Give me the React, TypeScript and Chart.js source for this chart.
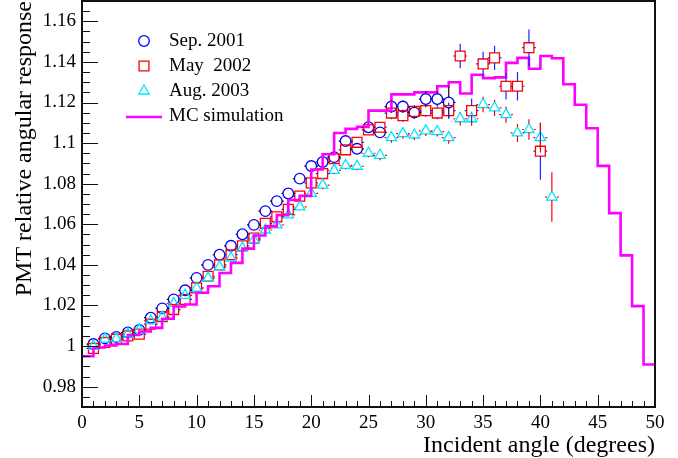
import React, { useEffect, useRef } from 'react';
import { Chart, registerables } from 'chart.js';

Chart.register(...registerables);

const FONT = "'Liberation Serif', 'Times New Roman', Times, serif";

// ---------- data ----------
const sepAngles = [1, 2, 3, 4, 5, 6, 7, 8, 9, 10, 11, 12, 13, 14, 15, 16, 17, 18, 19, 20, 21, 22, 23, 24, 25, 26, 27, 28, 29, 30, 31, 32];
const sepValues = [1.001, 1.0038, 1.0045, 1.0067, 1.008, 1.014, 1.0186, 1.023, 1.0275, 1.0336, 1.04, 1.045, 1.0494, 1.0551, 1.0597, 1.0665, 1.0714, 1.0752, 1.0825, 1.0887, 1.0907, 1.0931, 1.101, 1.0972, 1.1078, 1.1053, 1.118, 1.118, 1.115, 1.1217, 1.1217, 1.12];
const sepErrors = [0.0015, 0.0015, 0.0015, 0.0015, 0.0015, 0.0015, 0.0015, 0.0015, 0.0015, 0.0015, 0.0015, 0.0015, 0.0015, 0.0015, 0.0015, 0.0015, 0.0015, 0.0015, 0.0015, 0.0018, 0.002, 0.002, 0.002, 0.002, 0.002, 0.002, 0.003, 0.003, 0.003, 0.004, 0.0037, 0.0078];

const mayAngles = [1, 2, 3, 4, 5, 6, 7, 8, 9, 10, 11, 12, 13, 14, 15, 16, 17, 18, 19, 20, 21, 22, 23, 24, 25, 26, 27, 28, 29, 30, 31, 32, 33, 34, 35, 36, 37, 38, 39, 40];
const mayValues = [0.9989, 1.0018, 1.0034, 1.005, 1.0059, 1.0108, 1.0145, 1.018, 1.023, 1.0287, 1.0344, 1.04, 1.045, 1.0494, 1.0532, 1.0605, 1.0637, 1.0674, 1.0739, 1.0804, 1.085, 1.0923, 1.0967, 1.1004, 1.1065, 1.1078, 1.1148, 1.1135, 1.1156, 1.116, 1.1148, 1.116, 1.1429, 1.116, 1.139, 1.142, 1.128, 1.128, 1.147, 1.096];
const mayErrors = [0.0015, 0.0015, 0.0015, 0.0015, 0.0015, 0.0015, 0.0015, 0.0015, 0.0015, 0.0015, 0.0015, 0.0015, 0.0015, 0.0015, 0.0015, 0.0015, 0.0015, 0.0015, 0.0015, 0.0018, 0.002, 0.002, 0.002, 0.002, 0.002, 0.002, 0.003, 0.003, 0.003, 0.003, 0.003, 0.004, 0.006, 0.006, 0.006, 0.006, 0.0065, 0.007, 0.009, 0.014];

const augAngles = [1, 2, 3, 4, 5, 6, 7, 8, 9, 10, 11, 12, 13, 14, 15, 16, 17, 18, 19, 20, 21, 22, 23, 24, 25, 26, 27, 28, 29, 30, 31, 32, 33, 34, 35, 36, 37, 38, 39, 40, 41];
const augValues = [1.0, 1.0034, 1.0037, 1.0059, 1.008, 1.0124, 1.0143, 1.021, 1.025, 1.0285, 1.0335, 1.039, 1.0434, 1.0483, 1.0523, 1.0572, 1.0597, 1.0646, 1.0686, 1.0752, 1.0793, 1.0866, 1.089, 1.0886, 1.095, 1.094, 1.1027, 1.1047, 1.104, 1.106, 1.1057, 1.1027, 1.112, 1.112, 1.119, 1.1174, 1.114, 1.105, 1.1067, 1.1027, 1.0734];
const augErrors = [0.0015, 0.0015, 0.0015, 0.0015, 0.0015, 0.0015, 0.0015, 0.0015, 0.0015, 0.0015, 0.0015, 0.0015, 0.0015, 0.0015, 0.0015, 0.0015, 0.0015, 0.0015, 0.0015, 0.0018, 0.002, 0.002, 0.002, 0.002, 0.002, 0.0025, 0.0025, 0.0025, 0.0025, 0.0025, 0.0025, 0.003, 0.0033, 0.0035, 0.0038, 0.004, 0.004, 0.0044, 0.005, 0.0073, 0.0122];

// MC simulation histogram: bin edges and bin contents
const mcEdges = [0, 1, 2, 3, 4, 5, 6, 7, 8, 9, 10, 11, 12, 13, 14, 15, 16, 17, 18, 19, 20, 21, 22, 23, 24, 25, 26, 27, 28, 29, 30, 31, 32, 33, 34, 35, 36, 37, 38, 39, 40, 41, 42, 43, 44, 45, 46, 47, 48, 49, 50];
const mcValues = [0.995, 0.9993, 1.0003, 1.001, 1.0055, 1.0072, 1.009, 1.0135, 1.0195, 1.0205, 1.0263, 1.0295, 1.036, 1.041, 1.048, 1.0545, 1.059, 1.0645, 1.072, 1.074, 1.087, 1.0945, 1.105, 1.107, 1.108, 1.116, 1.116, 1.124, 1.124, 1.125, 1.125, 1.128, 1.13, 1.1244, 1.1337, 1.132, 1.1324, 1.1395, 1.142, 1.1366, 1.1429, 1.1418, 1.129, 1.1189, 1.1073, 1.0888, 1.0655, 1.0447, 1.0197, 0.9909];

const xTicks = [0, 5, 10, 15, 20, 25, 30, 35, 40, 45, 50];
const yTicks = [0.98, 1.0, 1.02, 1.04, 1.06, 1.08, 1.1, 1.12, 1.14, 1.16];
const xRange = [0, 50];
const yRange = [0.97, 1.17];
const xMinorStep = 1;
const yMinorStep = 0.005;
const xHalfWidth = 0.6; // horizontal error bar half width (degrees)

const seriesLabels = ['Sep. 2001', 'May  2002', 'Aug. 2003', 'MC simulation'];

// ---------- plugins ----------
const errorBarPlugin = {
  id: 'errorBars',
  afterDatasetsDraw(chart: any) {
    const { ctx, chartArea: a, scales } = chart;
    const xs = scales.x;
    const ys = scales.y;
    ctx.save();
    ctx.beginPath();
    ctx.rect(a.left, a.top, a.width, a.height);
    ctx.clip();
    chart.data.datasets.forEach((ds: any) => {
      if (!ds.errors) return;
      ctx.strokeStyle = ds.barColor;
      ctx.lineWidth = 1.2;
      ctx.beginPath();
      ds.data.forEach((p: any, j: number) => {
        const e = ds.errors[j];
        const cx = xs.getPixelForValue(p.x);
        const cy = ys.getPixelForValue(p.y);
        const top = ys.getPixelForValue(p.y + e);
        const bot = ys.getPixelForValue(p.y - e);
        if (cy - top > ds.gapUp) {
          ctx.moveTo(cx, cy - ds.gapUp);
          ctx.lineTo(cx, top);
        }
        if (bot - cy > ds.gapDown) {
          ctx.moveTo(cx, cy + ds.gapDown);
          ctx.lineTo(cx, bot);
        }
        const xl = xs.getPixelForValue(p.x - xHalfWidth);
        const xr = xs.getPixelForValue(p.x + xHalfWidth);
        if (cx - xl > ds.gapX) {
          ctx.moveTo(cx - ds.gapX, cy);
          ctx.lineTo(xl, cy);
          ctx.moveTo(cx + ds.gapX, cy);
          ctx.lineTo(xr, cy);
        }
      });
      ctx.stroke();
    });
    ctx.restore();
  },
};

const framePlugin = {
  id: 'rootFrame',
  afterDraw(chart: any) {
    const { ctx, chartArea: a, scales } = chart;
    const xs = scales.x;
    const ys = scales.y;
    ctx.save();
    ctx.strokeStyle = '#111';
    ctx.lineWidth = 1;
    ctx.beginPath();
    const nx = Math.round((xs.max - xs.min) / xMinorStep);
    for (let i = 0; i <= nx; i++) {
      const v = xs.min + i * xMinorStep;
      const major = xTicks.some((t) => Math.abs(t - v) < 1e-6);
      const px = Math.round(xs.getPixelForValue(v)) + 0.5;
      ctx.moveTo(px, a.bottom);
      ctx.lineTo(px, a.bottom - (major ? 12 : 6));
    }
    const ny = Math.round((ys.max - ys.min) / yMinorStep);
    for (let i = 0; i <= ny; i++) {
      const v = ys.min + i * yMinorStep;
      const major = yTicks.some((t) => Math.abs(t - v) < 1e-6);
      const py = Math.round(ys.getPixelForValue(v)) + 0.5;
      ctx.moveTo(a.left, py);
      ctx.lineTo(a.left + (major ? 16 : 8), py);
    }
    ctx.stroke();
    ctx.lineWidth = 2;
    ctx.strokeRect(a.left, a.top, a.width, a.height);
    ctx.restore();
  },
};

const legendPlugin = {
  id: 'rootLegend',
  afterDraw(chart: any) {
    const { ctx, chartArea: a } = chart;
    const x0 = a.left + 62;
    const y0 = a.top + 40;
    const dy = 25;
    ctx.save();
    chart.data.datasets.forEach((ds: any, i: number) => {
      const y = y0 + i * dy;
      ctx.strokeStyle = ds.borderColor;
      if (ds.showLine) {
        ctx.lineWidth = ds.borderWidth;
        ctx.beginPath();
        ctx.moveTo(x0 - 18, y + 1);
        ctx.lineTo(x0 + 18, y + 1);
        ctx.stroke();
      } else {
        ctx.lineWidth = ds.pointBorderWidth;
        ctx.beginPath();
        if (ds.pointStyle === 'circle') {
          ctx.arc(x0, y, ds.pointRadius, 0, Math.PI * 2);
        } else if (ds.pointStyle === 'rect') {
          const s = ds.pointRadius * Math.SQRT1_2;
          ctx.rect(x0 - s, y - s, 2 * s, 2 * s);
        } else {
          const r = ds.pointRadius;
          ctx.moveTo(x0, y - r);
          ctx.lineTo(x0 + r * Math.sin(Math.PI / 3), y + r / 2);
          ctx.lineTo(x0 - r * Math.sin(Math.PI / 3), y + r / 2);
          ctx.closePath();
        }
        ctx.stroke();
      }
      ctx.fillStyle = '#000';
      ctx.font = `19px ${FONT}`;
      ctx.textBaseline = 'middle';
      ctx.textAlign = 'left';
      ctx.fillText(ds.label, x0 + 25, y);
    });
    ctx.restore();
  },
};

const toPoints = (xs: number[], ys: number[]) => xs.map((x, i) => ({ x, y: ys[i] }));
const noPadding = () => ({ left: 0, top: 0, right: 0, bottom: 0 });

export default function App() {
  const ref = useRef<HTMLCanvasElement | null>(null);

  useEffect(() => {
    if (!ref.current) return;
    const mcPoints = mcValues.flatMap((v, i) => [
      { x: mcEdges[i], y: v },
      { x: mcEdges[i + 1], y: v },
    ]);
    const chart = new Chart(ref.current, {
      type: 'scatter',
      data: {
        datasets: [
          {
            label: seriesLabels[0],
            data: toPoints(sepAngles, sepValues),
            pointStyle: 'circle',
            pointRadius: 5.3,
            pointBorderWidth: 1.3,
            borderColor: '#0000ff',
            backgroundColor: 'rgba(0,0,0,0)',
            order: 3,
            errors: sepErrors,
            barColor: '#111',
            gapUp: 5,
            gapDown: 5,
            gapX: 5,
          } as any,
          {
            label: seriesLabels[1],
            data: toPoints(mayAngles, mayValues),
            pointStyle: 'rect',
            pointRadius: 7,
            pointBorderWidth: 1.3,
            borderColor: '#ff0000',
            backgroundColor: 'rgba(0,0,0,0)',
            order: 2,
            errors: mayErrors,
            barColor: '#2222ff',
            gapUp: 5,
            gapDown: 5,
            gapX: 5,
          } as any,
          {
            label: seriesLabels[2],
            data: toPoints(augAngles, augValues),
            pointStyle: 'triangle',
            pointRadius: 6,
            pointBorderWidth: 1.3,
            borderColor: '#00e5ff',
            backgroundColor: 'rgba(0,0,0,0)',
            order: 1,
            errors: augErrors,
            barColor: '#ff0000',
            gapUp: 6,
            gapDown: 3,
            gapX: 5,
          } as any,
          {
            label: seriesLabels[3],
            data: mcPoints,
            showLine: true,
            borderColor: '#ff00ff',
            borderWidth: 2.6,
            pointRadius: 0,
            tension: 0,
            fill: false,
            order: 0,
          } as any,
        ],
      },
      options: {
        animation: false,
        responsive: false,
        events: [],
        layout: { autoPadding: false, padding: { left: 0, right: 23, top: 1, bottom: 0 } },
        plugins: {
          legend: { display: false },
          tooltip: { enabled: false },
        },
        scales: {
          x: {
            type: 'linear',
            min: xRange[0],
            max: xRange[1],
            grid: { display: false, drawTicks: false },
            border: { display: false },
            afterBuildTicks: (s: any) => {
              s.ticks = xTicks.map((v) => ({ value: v }));
            },
            afterFit: (s: any) => {
              s.height = 51;
              s.paddingLeft = 0;
              s.paddingRight = 0;
              s.paddingTop = 0;
              s.paddingBottom = 0;
              s.getPadding = noPadding;
            },
            ticks: {
              color: '#000',
              padding: 5,
              font: { family: FONT, size: 19 },
              maxRotation: 0,
              autoSkip: false,
              callback: (v: any) => String(v),
            },
            title: {
              display: true,
              text: 'Incident angle (degrees)',
              align: 'end',
              color: '#000',
              font: { family: FONT, size: 24, lineHeight: 1 },
              padding: { top: 0, bottom: 0 },
            },
          },
          y: {
            type: 'linear',
            min: yRange[0],
            max: yRange[1],
            grid: { display: false, drawTicks: false },
            border: { display: false },
            afterBuildTicks: (s: any) => {
              s.ticks = yTicks.map((v) => ({ value: v }));
            },
            afterFit: (s: any) => {
              s.width = 82;
              s.paddingTop = 0;
              s.paddingBottom = 0;
              s.paddingLeft = 0;
              s.paddingRight = 0;
              s.getPadding = noPadding;
            },
            ticks: {
              color: '#000',
              padding: 6,
              font: { family: FONT, size: 19 },
              autoSkip: false,
              callback: (v: any) => String(Number(Number(v).toFixed(3))),
            },
            title: {
              display: true,
              text: 'PMT relative angular response',
              align: 'end',
              color: '#000',
              font: { family: FONT, size: 24, lineHeight: 1 },
              padding: { top: 13, bottom: 0 },
            },
          },
        },
      } as any,
      plugins: [errorBarPlugin, framePlugin, legendPlugin],
    });
    return () => chart.destroy();
  }, []);

  return (
    <div style={{ position: 'absolute', left: 0, top: 0, width: 678, height: 458, background: '#fff' }}>
      <canvas ref={ref} width={678} height={458} style={{ display: 'block' }} />
    </div>
  );
}
